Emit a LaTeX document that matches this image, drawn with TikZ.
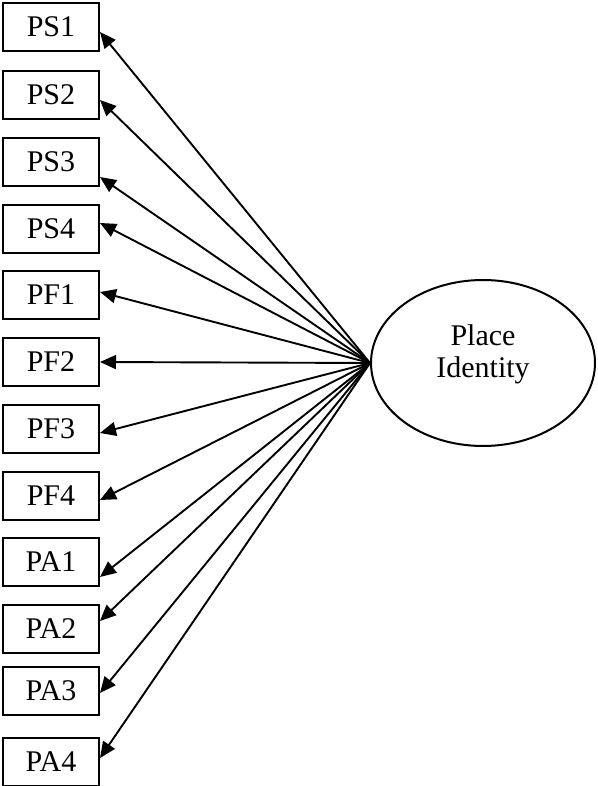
\documentclass[tikz,border=0pt]{standalone}
\usepackage{fontspec}
\setmainfont{Liberation Serif}
\usetikzlibrary{arrows.meta,shapes.geometric}
\begin{document}
\begin{tikzpicture}[x=1pt,y=-1pt,
  itembox/.style={draw,line width=2pt,minimum width=96pt,minimum height=48pt,
    inner sep=0pt,font=\fontsize{30}{36}\selectfont},
  factor/.style={draw,ellipse,line width=2pt,minimum width=224pt,minimum height=166pt,
    inner sep=0pt},
  factorlabel/.style={inner sep=0pt,align=center,font=\fontsize{30}{32}\selectfont},
  loading/.style={line width=1.9pt,-{Triangle[length=16pt,width=14pt]}}]
\useasboundingbox (0,0) rectangle (597,786);

% latent factor
\node[factor] (pi) at (483,363) {};
\node[factorlabel] (pilabel) at ([yshift=9pt]pi.center) {Place\\Identity};

% indicators
\node[itembox] (ps1) at (51,27)  {PS1};
\node[itembox] (ps2) at (51,95)  {PS2};
\node[itembox] (ps3) at (51,162) {PS3};
\node[itembox] (ps4) at (51,229) {PS4};
\node[itembox] (pf1) at (51,295) {PF1};
\node[itembox] (pf2) at (51,362) {PF2};
\node[itembox] (pf3) at (51,429) {PF3};
\node[itembox] (pf4) at (51,496) {PF4};
\node[itembox] (pa1) at (51,562) {PA1};
\node[itembox] (pa2) at (51,629) {PA2};
\node[itembox] (pa3) at (51,691) {PA3};
\node[itembox] (pa4) at (51,762) {PA4};

% loadings from the factor to each indicator
\draw[loading] (pi.west) -- ([yshift=-5pt]ps1.east);
\draw[loading] (pi.west) -- ([yshift=-5pt]ps2.east);
\draw[loading] (pi.west) -- ([yshift=-15pt]ps3.east);
\draw[loading] (pi.west) -- ([yshift=6pt]ps4.east);
\draw[loading] (pi.west) -- ([yshift=3pt]pf1.east);
\draw[loading] (pi.west) -- (pf2.east);
\draw[loading] (pi.west) -- ([yshift=-4pt]pf3.east);
\draw[loading] (pi.west) -- ([yshift=-4pt]pf4.east);
\draw[loading] (pi.west) -- ([yshift=-15pt]pa1.east);
\draw[loading] (pi.west) -- ([yshift=8pt]pa2.east);
\draw[loading] (pi.west) -- ([yshift=-2pt]pa3.east);
\draw[loading] (pi.west) -- ([yshift=4pt]pa4.east);
\end{tikzpicture}
\end{document}
